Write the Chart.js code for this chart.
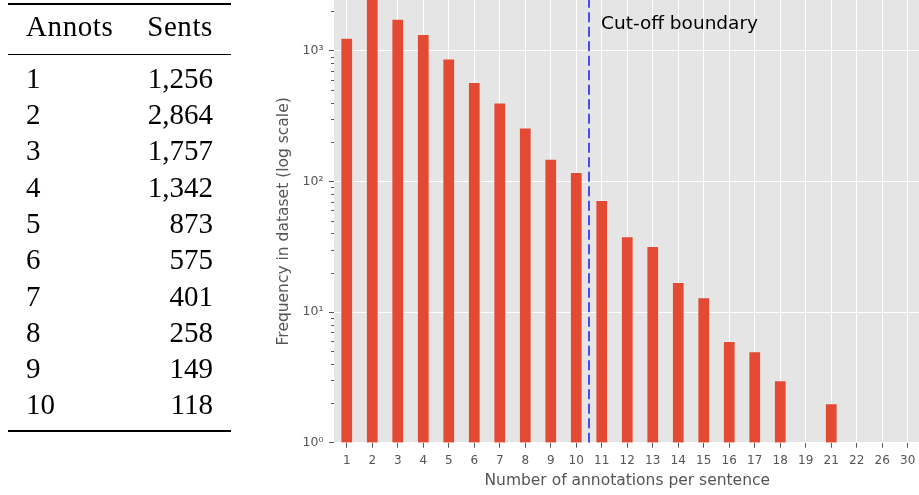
<!DOCTYPE html>
<html>
<head>
<meta charset="utf-8">
<script src="https://cdn.jsdelivr.net/npm/chart.js@4.4.1/dist/chart.umd.min.js"></script>
<style>
  html, body { margin: 0; padding: 0; width: 919px; height: 495px; overflow: hidden; background: #ffffff; }
  #wrap { position: relative; width: 919px; height: 495px; overflow: hidden; }
  #chart { position: absolute; left: 0; top: -30px; }
  #table { position: absolute; left: 0; top: 0; width: 240px; height: 495px; z-index: 2;
           font-family: 'Liberation Serif', 'DejaVu Serif', serif; color: #000; }
  .rule { position: absolute; left: 8px; width: 223px; background: #000; }
  .cell { position: absolute; font-size: 29px; line-height: 29px; white-space: nowrap; }
  .left { left: 26px; }
  .right { right: 27px; text-align: right; }
  .head { letter-spacing: 0.6px; }
</style>
</head>
<body>
<div id="wrap">
  <canvas id="chart" width="940" height="525"></canvas>
  <div id="table">
    <div class="rule" style="top:3px;height:2px"></div>
    <div class="rule" style="top:53.5px;height:1.3px"></div>
    <div class="rule" style="top:430px;height:2px"></div>
  </div>
</div>
<script>
// Number of annotations per sentence (x categories)
const annotCounts = ['1', '2', '3', '4', '5', '6', '7', '8', '9', '10', '11', '12',
                     '13', '14', '15', '16', '17', '18', '19', '21', '22', '26', '30'];
// Number of sentences with that many annotations
const sentenceCounts = [1256, 2864, 1757, 1342, 873, 575, 401, 258, 149, 118, 72, 38,
                        32, 17, 13, 6, 5, 3, 1, 2, 1, 1, 1];
// Log-axis major ticks and their labels
const yTickValues = [1, 10, 100, 1000];
const yTickLabels = ['10\u2070', '10\u00B9', '10\u00B2', '10\u00B3'];
// Table columns and summary rows
const tableHeaders = ['Annots', 'Sents'];
const tableRowCount = 10;
// Annotation boundary drawn between these two categories
const cutoffBetween = ['10', '11'];
const cutoffLabel = 'Cut-off boundary';

// ---- table ----
(function buildTable() {
  const table = document.getElementById('table');
  const headerBaseline = 36;
  const firstBaseline = 88;
  const rowStep = 36.3;
  const ascentShift = 24.3; // baseline offset inside a 29px line box
  function cell(text, cls, baseline) {
    const d = document.createElement('div');
    d.className = 'cell ' + cls;
    d.style.top = (baseline - ascentShift) + 'px';
    d.textContent = text;
    table.appendChild(d);
  }
  cell(tableHeaders[0], 'left head', headerBaseline);
  cell(tableHeaders[1], 'right head', headerBaseline);
  for (let i = 0; i < tableRowCount; i++) {
    const b = firstBaseline + i * rowStep;
    cell(annotCounts[i], 'left', b);
    cell(sentenceCounts[i].toLocaleString('en-US'), 'right', b);
  }
})();

// ---- chart ----
Chart.defaults.font.family = '"DejaVu Sans", sans-serif';

const plotBackground = {
  id: 'plotBackground',
  beforeDraw(chart) {
    const { ctx, chartArea: a } = chart;
    ctx.save();
    ctx.fillStyle = '#E5E5E5';
    ctx.fillRect(a.left, a.top, a.right - a.left, a.bottom - a.top);
    ctx.restore();
  }
};

const minorTicks = {
  id: 'minorTicks',
  afterDraw(chart) {
    const { ctx, chartArea: a } = chart;
    const y = chart.scales.y;
    ctx.save();
    ctx.strokeStyle = '#555555';
    ctx.lineWidth = 1;
    ctx.beginPath();
    for (let p = 1; p <= y.max; p *= 10) {
      for (let m = 2; m <= 9; m++) {
        const v = m * p;
        if (v > y.max) break;
        const py = Math.round(y.getPixelForValue(v)) + 0.5;
        ctx.moveTo(a.left - 3, py);
        ctx.lineTo(a.left, py);
      }
    }
    ctx.stroke();
    ctx.restore();
  }
};

const cutoff = {
  id: 'cutoff',
  afterDatasetsDraw(chart) {
    const { ctx, chartArea: a } = chart;
    const x = chart.scales.x;
    const i0 = annotCounts.indexOf(cutoffBetween[0]);
    const i1 = annotCounts.indexOf(cutoffBetween[1]);
    const px = (x.getPixelForTick(i0) + x.getPixelForTick(i1)) / 2;
    ctx.save();
    ctx.beginPath();
    ctx.rect(a.left, a.top, a.right - a.left, a.bottom - a.top);
    ctx.clip();
    ctx.strokeStyle = 'rgba(0, 0, 255, 0.68)';
    ctx.lineWidth = 2;
    ctx.setLineDash([10, 4.5]);
    ctx.beginPath();
    ctx.moveTo(px, a.bottom);
    ctx.lineTo(px, a.top);
    ctx.stroke();
    ctx.setLineDash([]);
    ctx.fillStyle = '#000000';
    ctx.font = '18.5px "DejaVu Sans"';
    ctx.textAlign = 'left';
    ctx.textBaseline = 'alphabetic';
    ctx.fillText(cutoffLabel, px + 12, a.top + 29.3);
    ctx.restore();
  }
};

new Chart(document.getElementById('chart'), {
  type: 'bar',
  data: {
    labels: annotCounts,
    datasets: [{
      data: sentenceCounts,
      backgroundColor: '#E24A33',
      borderColor: 'rgba(238, 238, 238, 0.45)',
      borderWidth: 1,
      barPercentage: 0.5,
      categoryPercentage: 1,
      clip: 0
    }]
  },
  options: {
    responsive: false,
    animation: false,
    devicePixelRatio: 1,
    layout: { padding: { left: 270, right: 19.5, top: 30, bottom: 0 } },
    plugins: { legend: { display: false }, tooltip: { enabled: false } },
    scales: {
      x: {
        type: 'category',
        offset: true,
        grid: { offset: false, color: '#FFFFFF', lineWidth: 1, tickLength: 5, tickColor: '#555555' },
        border: { display: false },
        ticks: { color: '#555555', font: { size: 12 }, padding: 5.5, autoSkip: false, maxRotation: 0 },
        title: {
          display: true, text: 'Number of annotations per sentence', color: '#555555',
          font: { size: 15.5 }, padding: { top: 0, bottom: 4.7 }
        },
        afterFit(s) { s.height = 52.3; }
      },
      y: {
        type: 'logarithmic',
        min: 1,
        max: 2443,
        afterBuildTicks(s) { s.ticks = yTickValues.map(v => ({ value: v })); },
        ticks: {
          callback: (v) => { const i = yTickValues.indexOf(v); return i >= 0 ? yTickLabels[i] : ''; },
          color: '#555555', font: { size: 12.5 }, padding: 5.5
        },
        grid: { color: '#FFFFFF', lineWidth: 1, tickLength: 5, tickColor: '#555555' },
        border: { display: false },
        title: {
          display: true, text: 'Frequency in dataset (log scale)', color: '#555555',
          font: { size: 15.5 }, padding: { top: 4.2, bottom: 0 }
        },
        afterFit(s) { s.width = 64; }
      }
    }
  },
  plugins: [plotBackground, minorTicks, cutoff]
});
</script>
</body>
</html>
